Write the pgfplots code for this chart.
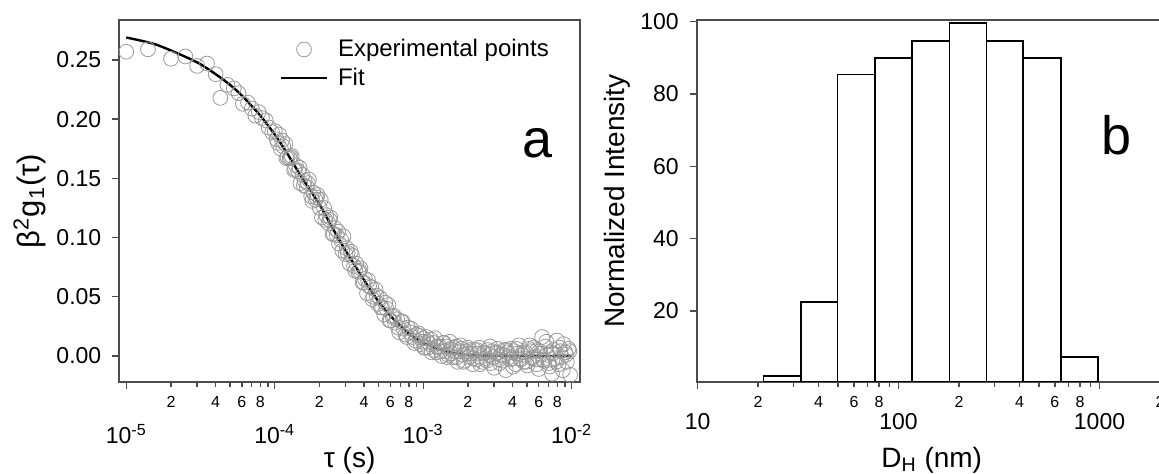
\documentclass[border=0pt]{standalone}
\usepackage{fontspec}
\setmainfont{Liberation Sans}
\usepackage{pgfplots}
\pgfplotsset{compat=1.18}
\pgfkeys{/pgfplots/markleg/.style={legend image code/.code={\draw[mark repeat=2,mark phase=2,##1] plot coordinates {(0pt,0pt) (11.4pt,0pt) (22.8pt,0pt)};}}}
\pgfkeys{/pgfplots/lineleg/.style={legend image code/.code={\draw[##1] (0pt,0pt) -- (22.8pt,0pt);}}}
\pgfplotsset{
  panel/.style={
    scale only axis,
    anchor=south west,
    height=181pt,
    axis line style={draw=black!70, line width=0.8pt},
    every tick/.style={draw=black!70, line width=0.7pt},
    tick align=outside,
    xtick pos=left, ytick pos=left,
    major tick length=3.5pt, minor tick length=2.5pt,
    tick label style={font=\fontsize{11.5}{13}\selectfont},
    label style={font=\fontsize{14}{15}\selectfont},
    yticklabel style={xshift=-2pt},
    xticklabel style={anchor=base},
    /pgf/number format/assume math mode=true,
  }
}
\begin{document}
\begin{tikzpicture}
% panel a: correlation function
\begin{axis}[panel, at={(59.65pt,46pt)}, width=230.35pt,
  xmode=log, xmin=8.973e-6, xmax=1.1376e-2, ymin=-0.022, ymax=0.2838,
  xtick={1e-5,1e-4,1e-3,1e-2},
  xticklabels={10\textsuperscript{-5},10\textsuperscript{-4},10\textsuperscript{-3},10\textsuperscript{-2}},
  xticklabel style={yshift=-27.5pt},
  minor xtick={3e-5,5e-5,7e-5,9e-5,3e-4,5e-4,7e-4,9e-4,3e-3,5e-3,7e-3,9e-3},
  extra x ticks={2e-5,4e-5,6e-5,8e-5,2e-4,4e-4,6e-4,8e-4,2e-3,4e-3,6e-3,8e-3},
  extra x tick labels={2,4,6,8,2,4,6,8,2,4,6,8},
  extra x tick style={major tick length=2.5pt, xticklabel style={font=\fontsize{8}{9}\selectfont, yshift=17pt}},
  ytick={0,0.05,0.1,0.15,0.2,0.25},
  yticklabels={0.00,0.05,0.10,0.15,0.20,0.25},
  xlabel={τ (s)},
  xlabel style={at={(axis description cs:0.5,-0.2155)}, anchor=center},
  ylabel={β\textsuperscript{2}g\textsubscript{1}(τ)},
  ylabel style={at={(axis description cs:-0.1947,0.5)}, anchor=center, font=\fontsize{15.5}{17}\selectfont},
  legend style={draw=none, fill=none, at={(axis description cs:0.335,0.97)}, anchor=north west,
    font=\fontsize{12}{13}\selectfont, row sep=0pt, /tikz/every odd column/.style={column sep=3pt}},
  legend cell align=left,
]
\addplot[only marks, mark=o, mark size=3.7pt, draw=black!40, line width=0.4pt, markleg] coordinates {
(1.0e-5,0.257) (1.4e-5,0.259) (2.0e-5,0.251) (2.5e-5,0.253) (3.0e-5,0.245) (3.5e-5,0.247)
(4.0e-5,0.238) (4.3e-5,0.218) (4.8e-5,0.229) (5.3e-5,0.226) (5.7e-5,0.222) (6.1e-5,0.213)
(6.6e-5,0.214) (7.0e-5,0.209) (7.4e-5,0.203) (7.8e-5,0.206) (8.2e-5,0.201) (8.7e-5,0.199)
(9.1e-5,0.193) (9.6e-5,0.189)
(1.00e-4,0.190) (1.03e-4,0.183) (1.07e-4,0.187) (1.10e-4,0.175) (1.14e-4,0.177) (1.18e-4,0.179)
(1.22e-4,0.168) (1.26e-4,0.167) (1.30e-4,0.169) (1.35e-4,0.157) (1.39e-4,0.161) (1.44e-4,0.156)
(1.49e-4,0.146) (1.54e-4,0.153) (1.59e-4,0.148) (1.64e-4,0.143) (1.70e-4,0.149) (1.76e-4,0.135)
(1.82e-4,0.138) (1.88e-4,0.132) (1.94e-4,0.136) (2.01e-4,0.125) (2.08e-4,0.117) (2.15e-4,0.125)
(2.22e-4,0.119) (2.30e-4,0.112) (2.37e-4,0.117) (2.45e-4,0.103) (2.54e-4,0.108) (2.62e-4,0.102)
(2.71e-4,0.095) (2.80e-4,0.098) (2.90e-4,0.101) (3.00e-4,0.086) (3.10e-4,0.087) (3.20e-4,0.078)
(3.31e-4,0.085) (3.42e-4,0.076) (3.54e-4,0.078) (3.66e-4,0.071) (3.78e-4,0.074) (3.91e-4,0.062)
(4.05e-4,0.065) (4.18e-4,0.053) (4.32e-4,0.059) (4.47e-4,0.058) (4.62e-4,0.050) (4.78e-4,0.056)
(4.94e-4,0.044) (5.11e-4,0.049) (5.28e-4,0.041) (5.46e-4,0.035) (5.64e-4,0.040) (5.83e-4,0.043)
(6.03e-4,0.030) (6.24e-4,0.033) (6.45e-4,0.028) (6.67e-4,0.031) (6.89e-4,0.020) (7.13e-4,0.029)
(7.37e-4,0.023) (7.62e-4,0.018) (7.88e-4,0.024) (8.14e-4,0.020) (8.42e-4,0.016) (8.71e-4,0.011)
(9.00e-4,0.018) (9.31e-4,0.019) (9.62e-4,0.010) (9.95e-4,0.012)
(1.05e-4,0.180) (1.12e-4,0.182) (1.20e-4,0.167) (1.28e-4,0.168) (1.37e-4,0.158) (1.47e-4,0.159)
(1.57e-4,0.144) (1.67e-4,0.146) (1.79e-4,0.131) (1.91e-4,0.134) (2.04e-4,0.132) (2.19e-4,0.115)
(2.34e-4,0.115) (2.50e-4,0.103) (2.67e-4,0.105) (2.85e-4,0.089) (3.05e-4,0.091) (3.26e-4,0.088)
(3.48e-4,0.072) (3.72e-4,0.072) (3.98e-4,0.062) (4.25e-4,0.064) (4.54e-4,0.048) (4.86e-4,0.051)
(5.19e-4,0.041) (5.55e-4,0.045) (5.93e-4,0.030) (6.34e-4,0.034) (6.78e-4,0.024) (7.25e-4,0.029)
(7.75e-4,0.016) (8.28e-4,0.023) (8.86e-4,0.013) (9.47e-4,0.017)
(1.00e-3,0.015) (1.03e-3,0.007) (1.05e-3,0.016) (1.08e-3,0.007) (1.11e-3,0.010) (1.14e-3,0.003)
(1.17e-3,0.011) (1.20e-3,0.015) (1.23e-3,0.003) (1.26e-3,0.007) (1.29e-3,0.008) (1.33e-3,0.000)
(1.36e-3,0.011) (1.40e-3,0.004) (1.43e-3,0.008) (1.47e-3,0.001) (1.51e-3,0.012) (1.55e-3,0.002)
(1.59e-3,-0.001) (1.63e-3,0.004) (1.67e-3,0.008) (1.71e-3,-0.005) (1.76e-3,0.004) (1.80e-3,0.006)
(1.85e-3,0.001) (1.90e-3,-0.004) (1.95e-3,0.004) (2.00e-3,0.007) (2.05e-3,-0.001) (2.10e-3,0.002)
(2.16e-3,-0.007) (2.21e-3,0.005) (2.27e-3,-0.003) (2.33e-3,0.002) (2.39e-3,0.007) (2.45e-3,-0.001)
(2.51e-3,-0.005) (2.58e-3,0.003) (2.65e-3,-0.002) (2.71e-3,0.005) (2.78e-3,0.001) (2.86e-3,-0.006)
(2.93e-3,0.004) (3.01e-3,-0.010) (3.08e-3,0.002) (3.16e-3,0.006) (3.25e-3,-0.003) (3.33e-3,0.001)
(3.42e-3,-0.004) (3.51e-3,0.005) (3.60e-3,-0.012) (3.69e-3,0.003) (3.79e-3,-0.001) (3.88e-3,0.006)
(3.98e-3,-0.002) (4.09e-3,0.004) (4.19e-3,-0.007) (4.30e-3,0.002) (4.41e-3,0.009) (4.53e-3,-0.003)
(4.64e-3,0.001) (4.76e-3,-0.005) (4.89e-3,0.003) (5.02e-3,-0.008) (5.15e-3,0.006) (5.28e-3,0.004)
(5.42e-3,-0.002) (5.56e-3,0.007) (5.70e-3,-0.003) (5.85e-3,0.005) (6.00e-3,-0.011) (6.16e-3,0.002)
(6.32e-3,0.016) (6.48e-3,-0.004) (6.65e-3,0.008) (6.82e-3,0.001) (7.00e-3,-0.006) (7.18e-3,0.003)
(7.37e-3,-0.015) (7.56e-3,0.005) (7.76e-3,-0.002) (7.96e-3,0.013) (8.16e-3,-0.007) (8.38e-3,0.004)
(8.59e-3,-0.001) (8.82e-3,0.010) (9.05e-3,0.003) (9.28e-3,-0.005) (9.52e-3,0.006) (9.77e-3,-0.016)
(1.015e-3,0.007) (1.065e-3,0.012) (1.125e-3,0.014) (1.185e-3,0.005) (1.245e-3,0.008) (1.31e-3,0.004)
(1.38e-3,0.011) (1.45e-3,-0.001) (1.53e-3,0.006) (1.61e-3,0.007) (1.69e-3,-0.001) (1.78e-3,0.009)
(1.87e-3,-0.005) (1.97e-3,0.002) (2.07e-3,0.005) (2.18e-3,-0.002) (2.30e-3,0.005) (2.42e-3,-0.007)
(2.55e-3,0.002) (2.68e-3,-0.004) (2.82e-3,0.008) (2.97e-3,-0.001) (3.12e-3,0.003) (3.29e-3,-0.006)
(3.46e-3,0.001) (3.64e-3,0.005) (3.83e-3,-0.003) (4.03e-3,-0.009) (4.24e-3,0.006) (4.47e-3,-0.002)
(4.70e-3,0.003) (4.95e-3,-0.005) (5.21e-3,0.009) (5.49e-3,-0.001) (5.78e-3,-0.007) (6.08e-3,0.004)
(6.40e-3,-0.003) (6.74e-3,0.012) (7.09e-3,-0.009) (7.47e-3,0.002) (7.86e-3,-0.005) (8.27e-3,0.007)
(8.71e-3,-0.012) (9.16e-3,0.001) (9.64e-3,0.004)
};
\addlegendentry{Experimental points}
\addplot[black, line width=1.2pt, smooth, lineleg] coordinates {
(1e-5,0.269) (1.5e-5,0.264) (2e-5,0.258) (3e-5,0.248) (4e-5,0.238) (5e-5,0.229) (6e-5,0.220)
(8e-5,0.203) (1e-4,0.187) (1.2e-4,0.172) (1.5e-4,0.152) (2e-4,0.128) (2.5e-4,0.106) (3e-4,0.089)
(4e-4,0.064) (5e-4,0.046) (6e-4,0.034) (8e-4,0.019) (1e-3,0.011) (1.3e-3,0.0055) (1.6e-3,0.0025)
(2e-3,0.0009) (3e-3,0.0001) (5e-3,0.0) (1e-2,0.0)
};
\addlegendentry{Fit}
\node[font=\fontsize{27}{27}\selectfont, inner sep=0pt] at (rel axis cs:0.9088,0.659) {a};
\end{axis}
% panel b: size distribution
\begin{axis}[panel, at={(348.35pt,46pt)}, width=235pt,
  xmode=log, xmin=9.9, xmax=2160, ymin=0.39, ymax=100.47,
  xtick={10,100,1000}, xticklabels={10,100,1000},
  xticklabel style={yshift=-20.5pt},
  minor xtick={30,50,70,90,300,500,700,900},
  extra x ticks={20,40,60,80,200,400,600,800,2000},
  extra x tick labels={2,4,6,8,2,4,6,8,2},
  extra x tick style={major tick length=2.5pt, xticklabel style={font=\fontsize{8}{9}\selectfont, yshift=10pt}},
  ytick={20,40,60,80,100},
  yticklabels={20,40,60,80,100},
  xlabel={D\textsubscript{H} (nm)},
  xlabel style={at={(axis description cs:0.5,-0.2155)}, anchor=center},
  ylabel={Normalized Intensity},
  ylabel style={at={(axis description cs:-0.1696,0.5)}, anchor=center},
]
\addplot[ybar interval, fill=white, draw=black, line width=0.9pt] coordinates {
(21.3,2.1) (32.6,22.4) (49.7,85.4) (76.3,89.9) (117,94.7) (179.4,99.6) (273.9,94.7) (418,89.9) (641,7.3) (979,7.3)
};
\node[font=\fontsize{27}{27}\selectfont, inner sep=0pt] at (rel axis cs:0.8932,0.682) {b};
\end{axis}
\pgfresetboundingbox
\useasboundingbox (0pt,0pt) rectangle (579.5pt,237pt);
\end{tikzpicture}
\end{document}
